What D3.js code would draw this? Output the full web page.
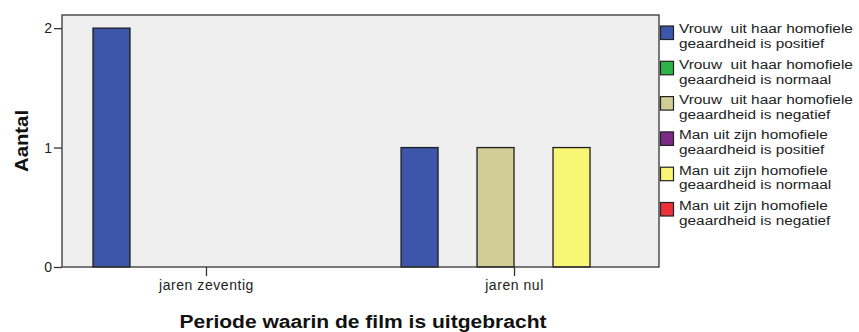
<!DOCTYPE html>
<html>
<head>
<meta charset="utf-8">
<script src="https://cdn.jsdelivr.net/npm/d3@7"></script>
<style>
  html, body { margin: 0; padding: 0; background: #ffffff; }
  svg { display: block; font-family: "Liberation Sans", Arial, sans-serif; }
</style>
</head>
<body>
<svg id="chart" width="859" height="332"></svg>
<script>
// Periods on the x axis
const categories = ["jaren zeventig", "jaren nul"];

// Legend entries (two lines each) and their fill colours
const seriesLine1 = [
  "Vrouw  uit haar homofiele",
  "Vrouw  uit haar homofiele",
  "Vrouw  uit haar homofiele",
  "Man uit zijn homofiele",
  "Man uit zijn homofiele",
  "Man uit zijn homofiele"
];
const seriesLine2 = [
  "geaardheid is positief",
  "geaardheid is normaal",
  "geaardheid is negatief",
  "geaardheid is positief",
  "geaardheid is normaal",
  "geaardheid is negatief"
];
const seriesColors = ["#3d56a9", "#2db34a", "#d2cd97", "#7b2b86", "#faf675", "#ec3237"];

// Counts per series, one value per category
const seriesValues = [
  [2, 1],
  [0, 0],
  [0, 1],
  [0, 0],
  [0, 1],
  [0, 0]
];

const yTicks = [0, 1, 2];

const svg = d3.select("#chart");
const plot = { left: 62, right: 659, top: 15, bottom: 267 };

const x0 = d3.scaleBand()
  .domain(categories)
  .range([plot.left, plot.right])
  .paddingInner(0.26)
  .paddingOuter(0.099);

const x1 = d3.scaleBand()
  .domain(d3.range(seriesValues.length))
  .range([0, x0.bandwidth()])
  .padding(0);

const y = d3.scaleLinear()
  .domain([0, 2.11])
  .range([plot.bottom, plot.top]);

// Plot background
svg.append("rect")
  .attr("x", plot.left)
  .attr("y", plot.top)
  .attr("width", plot.right - plot.left)
  .attr("height", plot.bottom - plot.top)
  .attr("fill", "#efefef");

// Bars
const rows = [];
seriesValues.forEach((vals, s) => {
  vals.forEach((v, c) => {
    if (v > 0) rows.push({ s, c: categories[c], v });
  });
});

svg.append("g")
  .selectAll("rect")
  .data(rows)
  .join("rect")
  .attr("x", d => x0(d.c) + x1(d.s) + 0.5)
  .attr("y", d => y(d.v))
  .attr("width", x1.bandwidth() - 1)
  .attr("height", d => y(0) - y(d.v))
  .attr("fill", d => seriesColors[d.s])
  .attr("stroke", "#1e1e1e")
  .attr("stroke-width", 1.3);

// Frame
svg.append("rect")
  .attr("x", plot.left)
  .attr("y", plot.top)
  .attr("width", plot.right - plot.left)
  .attr("height", plot.bottom - plot.top)
  .attr("fill", "none")
  .attr("stroke", "#333")
  .attr("stroke-width", 1.3);

// Y axis
const yAxis = d3.axisLeft(y)
  .tickValues(yTicks)
  .tickFormat(d3.format("d"))
  .tickSize(8)
  .tickPadding(2);

const gy = svg.append("g")
  .attr("transform", `translate(${plot.left},0)`)
  .call(yAxis);
gy.select(".domain").remove();
gy.selectAll(".tick line").attr("stroke", "#333").attr("stroke-width", 1.3);
gy.selectAll(".tick text")
  .attr("fill", "#222")
  .style("font-size", "14px");

// X axis
const xAxis = d3.axisBottom(x0)
  .tickSize(9)
  .tickPadding(4);

const gx = svg.append("g")
  .attr("transform", `translate(0,${plot.bottom})`)
  .call(xAxis);
gx.select(".domain").remove();
gx.selectAll(".tick line").attr("stroke", "#333").attr("stroke-width", 1.3);
gx.selectAll(".tick text")
  .attr("fill", "#222")
  .style("font-size", "14px")
  .style("letter-spacing", "0.55px");

// Axis titles
svg.append("text")
  .attr("transform", `translate(28,141) rotate(-90)`)
  .attr("text-anchor", "middle")
  .attr("textLength", 62)
  .attr("lengthAdjust", "spacingAndGlyphs")
  .style("font-size", "18px")
  .style("font-weight", "bold")
  .attr("fill", "#111")
  .text("Aantal");

svg.append("text")
  .attr("x", 363)
  .attr("y", 328)
  .attr("text-anchor", "middle")
  .attr("textLength", 367)
  .attr("lengthAdjust", "spacingAndGlyphs")
  .style("font-size", "18px")
  .style("font-weight", "bold")
  .attr("fill", "#111")
  .text("Periode waarin de film is uitgebracht");

// Legend
const legend = svg.append("g").attr("transform", "translate(660,0)");
const items = legend.selectAll("g")
  .data(seriesColors)
  .join("g")
  .attr("transform", (d, i) => `translate(0,${26 + i * 35.3})`);

items.append("rect")
  .attr("x", 0.5)
  .attr("y", 0)
  .attr("width", 13)
  .attr("height", 13.5)
  .attr("fill", d => d)
  .attr("stroke", "#222")
  .attr("stroke-width", 1.2);

// Each entry's two lines are separate text elements
items.append("text")
  .attr("transform", "translate(19,7.4) scale(1.14,1)")
  .attr("fill", "#222")
  .style("font-size", "13.5px")
  .style("white-space", "pre")
  .text((d, i) => seriesLine1[i]);
items.append("text")
  .attr("transform", "translate(19,22.2) scale(1.14,1)")
  .attr("fill", "#222")
  .style("font-size", "13.5px")
  .style("white-space", "pre")
  .text((d, i) => seriesLine2[i]);
</script>
</body>
</html>
